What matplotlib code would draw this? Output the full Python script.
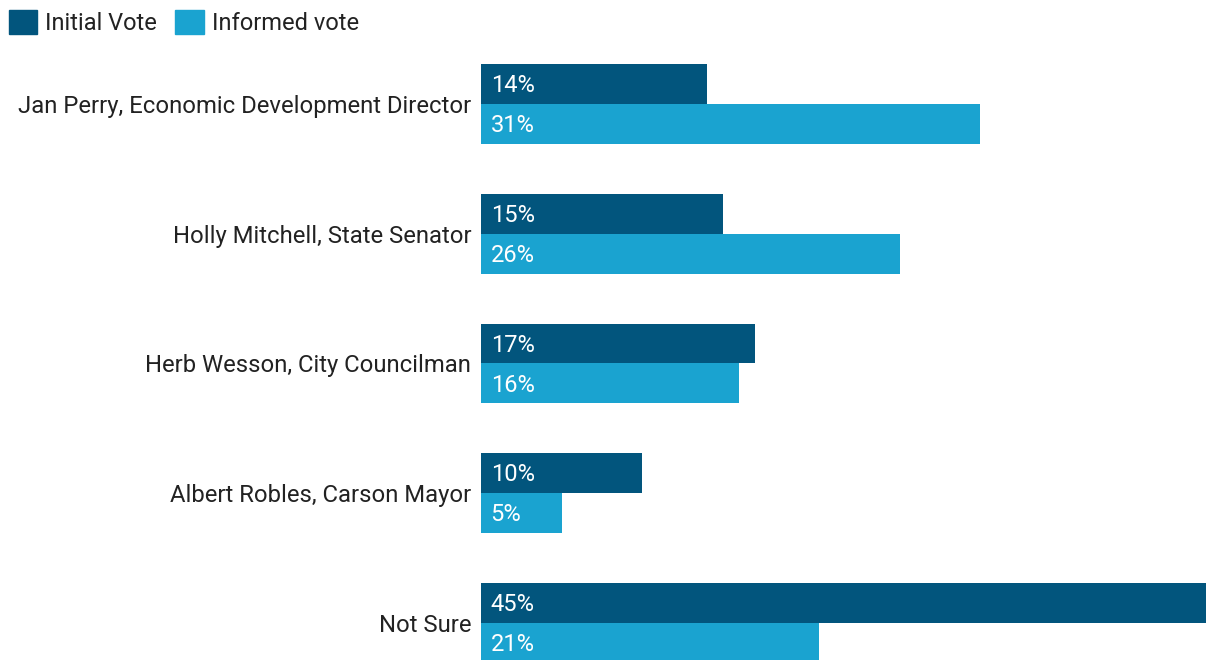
import numpy as np
import matplotlib.pyplot as plt
from matplotlib.patches import Patch

plt.rcParams['font.family'] = ['Roboto', 'DejaVu Sans']

candidates = ['Jan Perry, Economic Development Director',
              'Holly Mitchell, State Senator',
              'Herb Wesson, City Councilman',
              'Albert Robles, Carson Mayor',
              'Not Sure']
initial_vote = [14, 15, 17, 10, 45]
informed_vote = [31, 26, 16, 5, 21]
series_names = ['Initial Vote', 'Informed vote']

dark = '#02557d'
light = '#1aa3d0'

fig = plt.figure(figsize=(12.06, 6.6), dpi=100)
# axes spans x 481..1206 px, y 64..660 px
ax = fig.add_axes([481/1206, 0, 725/1206, 596/660])

y = np.arange(len(candidates))
h = 0.308
ax.barh(y - h/2, initial_vote, height=h, color=dark, linewidth=0)
ax.barh(y + h/2, informed_vote, height=h, color=light, linewidth=0)

# value labels inside the bars
for i in range(len(candidates)):
    ax.text(0.6, y[i] - h/2 + 0.012, f'{initial_vote[i]}%', color='white',
            fontsize=17, va='center', ha='left')
    ax.text(0.6, y[i] + h/2 + 0.012, f'{informed_vote[i]}%', color='white',
            fontsize=17, va='center', ha='left')

ax.set_xlim(0, 45)
ax.set_ylim(-h + 596/129.75, -h)
ax.set_yticks(y)
ax.set_yticklabels(candidates, fontsize=17.2, color='#222222')
ax.tick_params(axis='y', length=0, pad=7)
ax.set_xticks([])
for s in ax.spines.values():
    s.set_visible(False)

handles = [Patch(color=dark, label=series_names[0]),
           Patch(color=light, label=series_names[1])]
fig.legend(handles=handles, loc='upper left', bbox_to_anchor=(9/1206, 1 - 10/660),
           ncol=2, frameon=False, fontsize=17, handlelength=1.2, handleheight=1.2,
           handletextpad=0.34, columnspacing=0.76, borderaxespad=0, borderpad=0,
           labelcolor='#222222')

fig.savefig('out.png', dpi=100)
